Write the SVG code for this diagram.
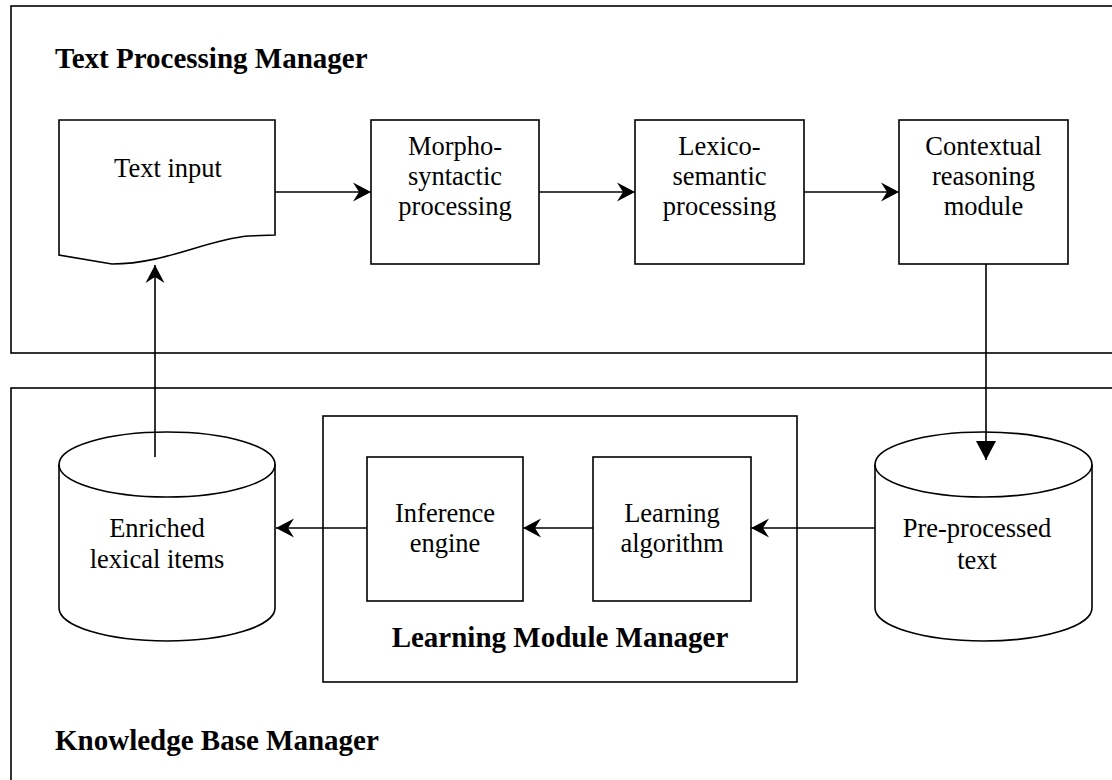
<svg xmlns="http://www.w3.org/2000/svg" width="1112" height="780" viewBox="0 0 1112 780">
  <style>
    .box { fill: #ffffff; stroke: #000000; stroke-width: 1.6; }
    .frame { fill: none; stroke: #000000; stroke-width: 1.6; }
    .edge { fill: none; stroke: #000000; stroke-width: 1.6; }
    .lbl { font-family: "Liberation Serif", "Times New Roman", serif; font-size: 26.5px; fill: #000000; text-anchor: middle; }
    .title { font-family: "Liberation Serif", "Times New Roman", serif; font-size: 29px; font-weight: bold; fill: #000000; }
  </style>
  <defs>
    <marker id="open" viewBox="0 0 20 20" markerWidth="20" markerHeight="20" refX="19" refY="10" orient="auto" markerUnits="userSpaceOnUse">
      <path d="M1,0.5 L19,10 L1,19.5 L7,10 Z" fill="#000000"/>
    </marker>
    <marker id="tri" viewBox="0 0 20 20" markerWidth="20" markerHeight="20" refX="19" refY="10" orient="auto" markerUnits="userSpaceOnUse">
      <path d="M0,0 L19,10 L0,20 Z" fill="#000000"/>
    </marker>
  </defs>

  <rect width="1112" height="780" fill="#ffffff"/>

  <!-- Container frames -->
  <g id="text-processing-manager">
    <rect class="frame" x="11" y="6" width="1110" height="347"/>
    <text class="title" x="55" y="68">Text Processing Manager</text>
  </g>
  <g id="knowledge-base-manager">
    <rect class="frame" x="11" y="388" width="1110" height="400"/>
    <text class="title" x="55" y="750">Knowledge Base Manager</text>
  </g>
  <g id="learning-module-manager">
    <rect class="frame" x="323" y="416" width="474" height="266"/>
    <text class="title" x="560" y="647" text-anchor="middle">Learning Module Manager</text>
  </g>

  <!-- Nodes -->
  <g id="text-input">
    <path class="box" d="M59,120 L275,120 L275,235 L248,236 C205,240 165,264 112,264 L59,255 Z"/>
    <text class="lbl" x="168" y="177">Text input</text>
  </g>
  <g id="morpho-syntactic">
    <rect class="box" x="371" y="120" width="168" height="144"/>
    <text class="lbl" x="455" y="155">Morpho-</text>
    <text class="lbl" x="455" y="185">syntactic</text>
    <text class="lbl" x="455" y="215">processing</text>
  </g>
  <g id="lexico-semantic">
    <rect class="box" x="635" y="120" width="169" height="144"/>
    <text class="lbl" x="719.5" y="155">Lexico-</text>
    <text class="lbl" x="719.5" y="185">semantic</text>
    <text class="lbl" x="719.5" y="215">processing</text>
  </g>
  <g id="contextual-reasoning">
    <rect class="box" x="899" y="120" width="169" height="144"/>
    <text class="lbl" x="983.5" y="155">Contextual</text>
    <text class="lbl" x="983.5" y="185">reasoning</text>
    <text class="lbl" x="983.5" y="215">module</text>
  </g>
  <g id="pre-processed-text">
    <path class="box" d="M875,464.5 A108.5,32.5 0 0 1 1092,464.5 L1092,608 A108.5,33 0 0 1 875,608 Z"/>
    <path class="edge" d="M875,464.5 A108.5,32.5 0 0 0 1092,464.5"/>
    <text class="lbl" x="977" y="537">Pre-processed</text>
    <text class="lbl" x="977" y="569">text</text>
  </g>
  <g id="enriched-lexical-items">
    <path class="box" d="M59,464.5 A108,32.5 0 0 1 275,464.5 L275,608 A108,33 0 0 1 59,608 Z"/>
    <path class="edge" d="M59,464.5 A108,32.5 0 0 0 275,464.5"/>
    <text class="lbl" x="157" y="537">Enriched</text>
    <text class="lbl" x="157" y="568">lexical items</text>
  </g>
  <g id="inference-engine">
    <rect class="box" x="367" y="457" width="156" height="144"/>
    <text class="lbl" x="445" y="522">Inference</text>
    <text class="lbl" x="445" y="552">engine</text>
  </g>
  <g id="learning-algorithm">
    <rect class="box" x="593" y="457" width="158" height="144"/>
    <text class="lbl" x="672" y="522">Learning</text>
    <text class="lbl" x="672" y="552">algorithm</text>
  </g>

  <!-- Connectors (drawn last so ends inside cylinders stay visible) -->
  <g id="connectors">
    <line class="edge" x1="275" y1="192" x2="371" y2="192" marker-end="url(#open)"/>
    <line class="edge" x1="539" y1="192" x2="635" y2="192" marker-end="url(#open)"/>
    <line class="edge" x1="804" y1="192" x2="899" y2="192" marker-end="url(#open)"/>
    <line class="edge" x1="986" y1="264" x2="986" y2="460" marker-end="url(#tri)"/>
    <line class="edge" x1="875" y1="528" x2="751" y2="528" marker-end="url(#open)"/>
    <line class="edge" x1="593" y1="528" x2="523" y2="528" marker-end="url(#open)"/>
    <line class="edge" x1="367" y1="528" x2="276" y2="528" marker-end="url(#open)"/>
    <line class="edge" x1="155" y1="457" x2="155" y2="265" marker-end="url(#open)"/>
  </g>
</svg>
